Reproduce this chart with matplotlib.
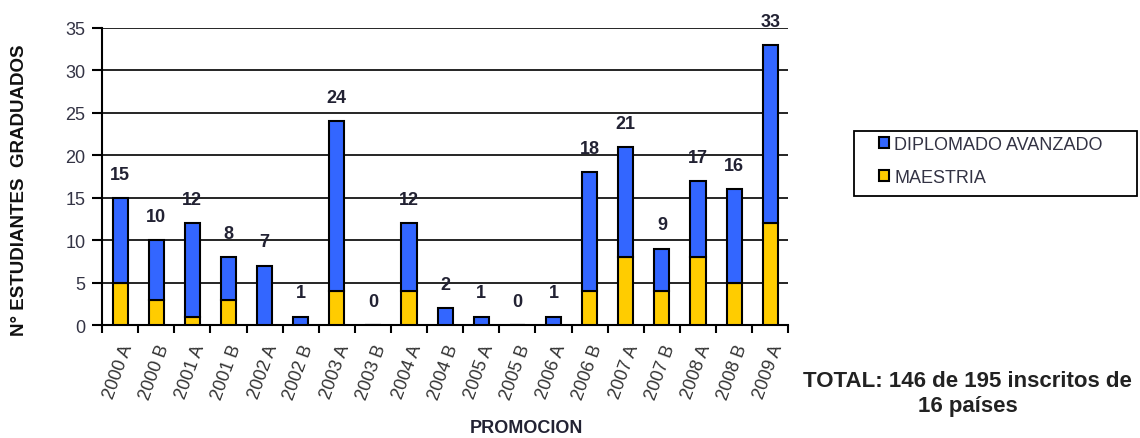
import matplotlib
matplotlib.use("Agg")
import matplotlib.pyplot as plt
from matplotlib.patches import Rectangle
import numpy as np

categories = ["2000 A", "2000 B", "2001 A", "2001 B", "2002 A", "2002 B", "2003 A", "2003 B",
              "2004 A", "2004 B", "2005 A", "2005 B", "2006 A", "2006 B", "2007 A", "2007 B",
              "2008 A", "2008 B", "2009 A"]
maestria = [5, 3, 1, 3, 0, 0, 4, 0, 4, 0, 0, 0, 0, 4, 8, 4, 8, 5, 12]
diplomado = [10, 7, 11, 5, 7, 1, 20, 0, 8, 2, 1, 0, 1, 14, 13, 5, 9, 11, 21]
totals = [m + d for m, d in zip(maestria, diplomado)]

plt.rcParams['font.family'] = ['Liberation Sans', 'DejaVu Sans']

BLUE = "#3366FF"
YELLOW = "#FFCC00"
TXT = "#222233"

fig = plt.figure(figsize=(11.4, 4.39), dpi=100)
ax = fig.add_axes([0.0895, 0.257, 0.602, 0.677])

x = np.arange(len(categories))
w = 0.42
ax.bar(x, maestria, width=w, color=YELLOW, edgecolor="black", linewidth=1.5, zorder=3,
       label="MAESTRIA")
ax.bar(x, diplomado, width=w, bottom=maestria, color=BLUE, edgecolor="black", linewidth=1.5,
       zorder=3, label="DIPLOMADO AVANZADO")

for xi, t in zip(x, totals):
    ax.annotate(str(t), (xi, t), xytext=(0, 11), textcoords="offset points",
                ha="center", va="bottom", fontsize=13, fontweight="bold", color=TXT)

ax.set_xlim(-0.5, len(categories) - 0.5)
ax.set_ylim(0, 35)
ax.set_yticks(range(0, 36, 5))
ax.yaxis.grid(True, color="black", linewidth=1.2, zorder=0)
ax.set_axisbelow(True)
for s in ["top", "right"]:
    ax.spines[s].set_visible(False)
ax.spines["left"].set_linewidth(1.5)
ax.spines["bottom"].set_linewidth(1.5)

ax.set_xticks(np.arange(-0.5, len(categories), 1.0))
ax.set_xticklabels([])
ax.set_xticks(x, minor=True)
ax.set_xticklabels(categories, minor=True, rotation=70, ha="right", va="top",
                   rotation_mode="anchor", fontsize=13, color="#333333")
ax.tick_params(axis="x", which="minor", length=0, pad=12)
ax.tick_params(axis="x", which="major", length=6, width=1.5, direction="out")
ax.tick_params(axis="y", length=7, width=1.5, direction="out", labelsize=13,
               labelcolor="#333344", pad=5)

fig.text(0.017, 0.567, "N° ESTUDIANTES  GRADUADOS", rotation=90, ha="center", va="center",
         fontsize=13.5, fontweight="bold", color="#111111")
fig.text(0.4615, 0.025, "PROMOCION", ha="center", va="center", fontsize=13,
         fontweight="bold", color=TXT)

fig.patches.append(Rectangle((0.749, 0.5513), 0.248, 0.148, transform=fig.transFigure,
                             facecolor="white", edgecolor="black", linewidth=1.3, zorder=1))
handles, labels = ax.get_legend_handles_labels()
leg = fig.legend(handles[::-1], labels[::-1], loc="upper left",
                 bbox_to_anchor=(0.771, 0.688), fontsize=13, frameon=False,
                 handlelength=0.55, handleheight=0.55, handletextpad=0.3,
                 borderpad=0, borderaxespad=0, labelspacing=0.9, labelcolor="#333344")

fig.text(0.849, 0.05, "TOTAL: 146 de 195 inscritos de\n16 países", ha="center", va="bottom",
         fontsize=16, fontweight="bold", color="#222222", linespacing=1.25)

fig.savefig("out.png", dpi=100)
